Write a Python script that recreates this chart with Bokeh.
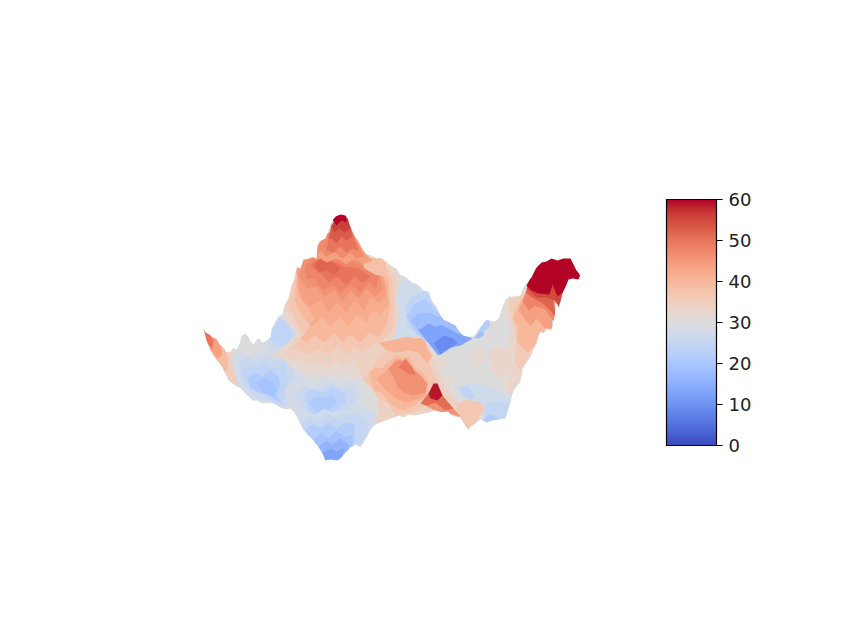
from bokeh.plotting import figure
from bokeh.models import LinearColorMapper, ColorBar, FixedTicker, ColumnDataSource, Range1d
from bokeh.embed import file_html
from bokeh.resources import INLINE
import numpy as np

cool_stops = [(0.2298,0.2987,0.7537),(0.2662,0.3531,0.8015),(0.3039,0.4065,0.8450),(0.3428,0.4588,0.8837),
(0.3830,0.5094,0.9174),(0.4244,0.5581,0.9456),(0.4667,0.6046,0.9682),(0.5096,0.6483,0.9848),(0.5530,0.6889,0.9954),
(0.5963,0.7261,0.9998),(0.6392,0.7596,0.9982),(0.6813,0.7890,0.9904),(0.7222,0.8140,0.9766),(0.7615,0.8343,0.9569),
(0.7987,0.8498,0.9317),(0.8335,0.8602,0.9010),(0.8654,0.8654,0.8654),(0.8978,0.8489,0.8209),(0.9241,0.8274,0.7745),
(0.9445,0.8009,0.7267),(0.9589,0.7698,0.6780),(0.9673,0.7341,0.6288),(0.9700,0.6943,0.5794),(0.9668,0.6504,0.5303),
(0.9580,0.6028,0.4818),(0.9437,0.5518,0.4342),(0.9239,0.4973,0.3880),(0.8990,0.4396,0.3432),(0.8692,0.3783,0.3003),
(0.8346,0.3129,0.2593),(0.7956,0.2413,0.2205),(0.7525,0.1572,0.1841),(0.7057,0.0156,0.1502)]
s = np.array(cool_stops)
t = np.linspace(0, 1, 256)
palette = ["#%02x%02x%02x" % tuple(int(round(np.interp(k, np.linspace(0,1,33), s[:,c])*255)) for c in range(3)) for k in t]

tick_values = [0, 10, 20, 30, 40, 50, 60]

# surface silhouette
outline = [(203,328),(205,332),(209,334),(212,337),(216,338),(219,344),(223,347),(226,352),(230,351),(233,347),(236,349),(239,343),(241,335),(245,333),(248,336),(250,340),(253,344),(256,339),(259,338),(262,342),(266,340),(270,337),(271,329),(274,323),(278,316),(282,314),(284,305),(288,297),(291,285),(294,278),(296,266),(300,268),(303,259),(308,258),(312,256),(316,258),(317,245),(320,240),(325,238),(328,229),(331,221),(335,216),(340,214),(345,215),(348,219),(350,226),(353,231),(355,237),(358,241),(361,247),(365,253),(371,255),(376,258),(381,257),(385,261),(390,265),(396,268),(400,274),(406,277),(411,282),(417,284),(423,290),(428,291),(431,300),(436,307),(439,313),(443,319),(449,322),(455,325),(458,330),(463,335),(468,336),(473,336),(477,330),(482,324),(486,319),(490,320),(494,321),(498,318),(501,309),(505,299),(509,296),(515,296),(520,295),(522,288),(527,281),(531,277),(535,268),(541,262),(546,261),(551,258),(557,260),(563,258),(570,258),(573,264),(576,270),(580,274),(578,279),(572,278),(568,279),(565,287),(562,293),(560,301),(558,307),(556,302),(554,317),(551,330),(546,328),(543,333),(540,331),(538,335),(536,343),(534,347),(530,357),(526,362),(522,368),(521,376),(520,382),(516,386),(513,390),(510,402),(505,418),(498,419),(492,420),(486,422),(480,419),(475,423),(470,426),(468,430),(464,424),(460,417),(453,416),(447,411),(441,412),(435,410),(428,412),(421,414),(415,415),(408,414),(403,417),(398,415),(391,418),(385,420),(380,422),(375,424),(371,428),(366,437),(360,447),(355,444),(350,447),(345,452),(341,457),(337,460),(330,459),(325,460),(322,453),(317,445),(311,438),(306,433),(302,428),(298,420),(294,412),(290,408),(285,409),(280,407),(275,404),(270,402),(262,403),(256,400),(252,400),(246,394),(240,388),(235,385),(228,380),(224,371),(220,364),(215,358),(210,350),(206,340)]

regions = [
 # left tail
 (35, [(198,322),(226,345),(234,356),(238,372),(242,386),(222,390),(203,350)]),
 (39, [(198,322),(218,338),(226,352),(228,366),(224,374),(214,358),(204,340)]),
 (44, [(198,322),(214,336),(220,344),(222,354),(217,358),(206,344)]),
 (50, [(198,322),(209,332),(213,340),(212,348),(206,342)]),
 # left basin
 (28, [(230,356),(240,350),(250,356),(258,348),(268,352),(280,346),(296,352),(306,362),(312,378),(302,392),(296,414),(280,412),(268,406),(254,402),(238,388)]),
 (26, [(237,362),(246,356),(254,361),(264,354),(274,360),(284,356),(292,366),(296,378),(290,392),(287,406),(276,406),(266,400),(254,396),(242,384)]),
 (24, [(240,372),(248,364),(256,368),(264,362),(274,368),(284,364),(288,378),(284,392),(282,404),(272,400),(262,394),(250,388)]),
 (21, [(247,378),(254,372),(262,376),(270,370),(278,376),(280,384),(276,394),(280,402),(270,396),(260,392),(250,388)]),
 (19, [(256,382),(264,378),(272,382),(276,390),(272,396),(262,392)]),
 # upper-left pale band
 (28, [(262,348),(268,326),(278,314),(286,306),(296,318),(304,330),(300,342),(292,350),(280,354),(270,352)]),
 (26, [(266,340),(272,324),(282,314),(288,316),(296,328),(300,338),(292,346),(284,350),(274,350)]),
 (24, [(268,338),(276,322),(282,320),(290,328),(294,338),(286,346),(278,344)]),
 # warm body, outer to inner
 (32, [(272,354),(285,344),(296,332),(286,322),(278,312),(290,280),(298,255),(385,255),(402,280),(410,310),(405,335),(395,345),(380,352),(368,368),(355,380),(347,372),(340,376),(332,370),(325,380),(316,372),(308,378),(300,370),(292,368),(284,360)]),
 (34, [(282,354),(290,345),(300,334),(290,320),(284,305),(292,280),(298,258),(385,258),(396,275),(400,305),(398,330),(385,345),(372,352),(362,366),(352,360),(344,366),(336,360),(328,368),(318,360),(310,366),(300,358),(292,360)]),
 (37, [(290,348),(298,340),(304,334),(296,322),(288,304),(295,275),(300,258),(382,258),(392,280),(394,305),(392,328),(380,342),(372,346),(362,352),(354,346),(346,354),(338,346),(328,354),(318,348),(308,354),(298,348)]),
 (40, [(300,338),(306,332),(310,326),(302,316),(294,300),(297,272),(302,258),(378,258),(388,280),(390,305),(386,324),(378,336),(368,332),(360,342),(350,334),(342,342),(334,332),(324,342),(314,334),(306,342)]),
 (42, [(308,326),(314,318),(306,306),(298,294),(296,272),(302,258),(376,262),(386,284),(388,304),(380,314),(372,310),(366,322),(356,314),(348,326),(340,316),(330,326),(322,316),(314,324)]),
 (44, [(302,300),(298,286),(296,270),(303,259),(318,256),(356,252),(374,264),(384,280),(386,296),(378,302),(370,296),(364,310),(354,300),(346,312),(336,302),(328,312),(320,300),(310,306)]),
 (46, [(298,276),(303,260),(318,256),(356,254),(370,264),(380,276),(382,290),(374,296),(366,288),(358,298),(350,290),(342,300),(334,290),(324,296),(316,286),(306,288)]),
 (48, [(304,266),(312,258),(322,256),(350,260),(366,268),(378,276),(376,288),(368,282),(360,292),(350,284),(340,292),(332,284),(322,290),(314,278),(306,278)]),
 (50, [(310,266),(316,258),(326,258),(344,266),(358,268),(370,276),(362,282),(354,276),(346,284),(336,276),(328,282),(320,272)]),
 (52, [(314,264),(320,258),(332,262),(340,268),(334,274),(326,270),(318,272)]),
 (38, [(360,256),(372,258),(386,262),(384,276),(374,274),(364,268)]),
 # peak
 (44, [(314,260),(316,244),(326,236),(356,236),(366,254),(372,260),(362,264),(354,258),(346,264),(336,258),(326,262),(320,258)]),
 (47, [(316,256),(318,244),(328,232),(352,232),(358,244),(364,256),(356,258),(350,252),(342,258),(334,252),(326,256),(320,250)]),
 (50, [(326,250),(328,236),(332,226),(350,226),(354,238),(358,250),(352,248),(346,252),(340,246),(333,252)]),
 (53, [(328,238),(331,224),(349,224),(352,236),(346,240),(341,236),(336,243),(331,238)]),
 (56, [(331,226),(335,217),(347,217),(350,228),(344,232),(339,228),(334,232)]),
 (60, [(332,219),(338,213),(346,214),(346,222),(341,220),(336,225)]),
 # middle blue patches
 (28, [(284,388),(296,378),(310,384),(324,376),(340,382),(356,378),(362,392),(356,408),(346,414),(322,418),(304,416),(290,412)]),
 (26, [(294,396),(304,386),(316,390),(328,382),(342,388),(354,386),(356,400),(346,410),(322,414),(306,414)]),
 (23, [(304,394),(312,388),(322,392),(332,386),(344,392),(346,402),(336,410),(320,414),(308,412)]),
 (21, [(308,402),(316,396),(324,398),(332,394),(336,402),(328,410),(316,412)]),
 (27, [(294,414),(304,408),(314,414),(324,408),(336,414),(346,408),(358,404),(372,410),(382,420),(366,440),(352,452),(330,462),(316,448)]),
 (25, [(300,424),(308,416),(318,420),(326,414),(338,418),(348,414),(360,414),(368,424),(364,442),(352,450),(340,456),(322,452),(312,440)]),
 (22, [(304,430),(312,424),(320,428),(328,422),(336,428),(344,422),(354,424),(354,444),(342,456),(328,458),(316,446)]),
 (19, [(312,440),(320,432),(328,438),(336,430),(344,436),(352,434),(352,446),(342,456),(328,460),(320,452)]),
 (16, [(318,446),(326,440),(332,444),(340,438),(348,444),(348,452),(340,458),(328,462)]),
 (13, [(322,452),(330,448),(336,451),(344,448),(340,460),(324,464)]),
 # peach edge of the grey floor
 (32, [(430,350),(442,352),(446,364),(440,372),(452,382),(448,392),(462,404),(458,412),(440,400),(428,372)]),
 (32, [(470,350),(480,346),(486,358),(478,366),(470,362)]),
 (33, [(488,350),(498,346),(508,350),(512,362),(506,374),(498,378),(490,368)]),
 # right warm hill
 (34, [(355,363),(360,356),(365,350),(371,347),(377,340),(388,342),(398,337),(410,340),(423,337),(430,352),(434,362),(438,370),(442,382),(448,390),(458,403),(452,420),(422,412),(395,420),(375,426),(378,397),(362,380)]),
 (37, [(362,378),(368,373),(372,366),(377,358),(386,352),(397,342),(410,344),(423,342),(430,365),(438,382),(427,398),(418,410),(406,412),(395,415),(387,402),(378,400),(372,387)]),
 (41, [(378,342),(390,340),(402,335),(414,338),(423,337),(428,350),(432,356),(426,362),(418,352),(408,350),(398,352),(386,350)]),
 (40, [(368,373),(375,367),(381,368),(388,362),(396,354),(403,358),(408,356),(415,368),(422,372),(428,380),(427,397),(420,400),(413,405),(404,410),(395,407),(388,402),(382,393),(374,390),(372,385)]),
 (43, [(376,378),(384,372),(390,366),(396,358),(403,360),(410,366),(418,374),(426,384),(424,396),(414,400),(404,402),(396,398),(388,392),(382,386)]),
 (46, [(388,368),(396,360),(402,360),(412,368),(420,375),(427,383),(425,392),(412,395),(404,392),(398,388),(392,375)]),
 (49, [(398,367),(405,358),(412,367),(415,375),(407,373)]),
 (37, [(458,403),(466,399),(472,401),(482,400),(484,410),(476,420),(472,428),(465,428),(455,416)]),
 (46, [(420,403),(435,400),(453,408),(460,416),(448,413),(435,410)]),
 (51, [(420,403),(428,393),(442,395),(453,408),(445,410),(435,402),(427,405)]),
 (59, [(428,393),(433,383),(437,383),(442,395),(437,400),(430,398)]),
 # lower-right pale blue
 (27, [(456,386),(470,382),(490,386),(504,394),(514,402),(508,424),(486,426),(482,404),(466,396)]),
 (24, [(458,388),(468,386),(474,396),(470,400),(462,396)]),
 (25, [(484,404),(498,400),(510,404),(506,420),(490,424),(484,416)]),
 (21, [(483,418),(490,414),(498,418),(496,424),(484,426)]),
 # blue trough
 (27, [(402,275),(427,290),(457,325),(475,337),(462,345),(438,355),(427,343),(418,335),(402,337),(393,340),(398,317),(395,297)]),
 (24, [(405,307),(412,295),(427,290),(438,308),(457,325),(465,335),(448,350),(438,355),(428,343),(415,333),(407,325)]),
 (21, [(406,316),(414,304),(424,298),(432,306),(442,316),(456,326),(448,342),(438,352),(426,340),(414,330)]),
 (18, [(410,320),(418,313),(428,312),(440,317),(455,325),(463,335),(450,347),(438,355),(427,340),(418,330)]),
 (13, [(418,330),(428,323),(434,326),(442,325),(457,333),(472,338),(460,345),(450,347),(438,355)]),
 (9, [(433,343),(443,335),(453,338),(457,343),(450,347),(440,354)]),
 (22, [(475,337),(483,322),(488,319),(490,325),(482,333)]),
 (18, [(474,337),(481,331),(484,334),(478,338)]),
 # right ridge
 (33, [(505,310),(508,296),(525,290),(545,300),(552,330),(538,338),(530,358),(522,370),(518,385),(510,396),(504,384),(510,368),(505,350),(510,330)]),
 (36, [(508,300),(522,294),(530,300),(528,320),(532,340),(526,360),(520,372),(514,362),(516,340),(512,320)]),
 (40, [(512,318),(518,304),(524,296),(530,290),(548,300),(550,330),(541,332),(535,344),(528,352),(522,348),(516,340),(518,328)]),
 (44, [(518,310),(524,295),(532,284),(550,296),(552,328),(544,328),(536,318),(530,326),(522,316)]),
 (48, [(522,300),(528,285),(536,280),(554,296),(554,322),(544,308),(534,306),(528,310)]),
 (52, [(525,292),(530,280),(552,296),(556,318),(550,310),(541,302),(533,298)]),
 (55, [(526,288),(530,280),(565,282),(559,308),(554,300),(546,297),(536,297)]),
 (60, [(526,285),(541,258),(570,256),(582,280),(568,281),(562,292),(557,296),(552,284),(549,294),(538,293),(531,290)]),
]

region_values = [r[0] for r in regions]
mapper = LinearColorMapper(palette=palette, low=0, high=60)
source = ColumnDataSource(dict(
    xs=[[q[0] for q in r[1]] for r in regions],
    ys=[[q[1] for q in r[1]] for r in regions],
    v=region_values))

p = figure(width=834, height=622, x_range=Range1d(0, 834), y_range=Range1d(622, 0),
           output_backend="svg", toolbar_location=None, min_border=0)
p.axis.visible = False
p.grid.visible = False
p.outline_line_color = None
p.background_fill_color = "white"

base = ColumnDataSource(dict(xs=[[q[0] for q in outline]], ys=[[q[1] for q in outline]], v=[30]))
p.patches("xs", "ys", source=base, fill_color={"field": "v", "transform": mapper}, line_color=None)
p.patches("xs", "ys", source=source, fill_color={"field": "v", "transform": mapper}, line_color=None)

# white surround: everything outside the silhouette
frame_x = [190, 595, 595, 190]
frame_y = [205, 205, 470, 470]
p.multi_polygons(xs=[[[frame_x, [q[0] for q in outline]]]], ys=[[[frame_y, [q[1] for q in outline]]]],
                 fill_color="white", line_color=None)

cb = ColorBar(color_mapper=mapper, ticker=FixedTicker(ticks=tick_values), location=(666, 177),
              width=50, height=246, padding=0, margin=0, bar_line_color="black", bar_line_width=1.2,
              major_tick_line_color="black", major_tick_line_width=1.2, major_tick_in=0, major_tick_out=6,
              minor_tick_line_color=None, major_label_text_font="DejaVu Sans",
              major_label_text_font_size="18px", major_label_text_color="#222222",
              label_standoff=6, background_fill_color=None, border_line_color=None)
p.add_layout(cb, "center")

open("out.html", "w").write(file_html(p, INLINE))
